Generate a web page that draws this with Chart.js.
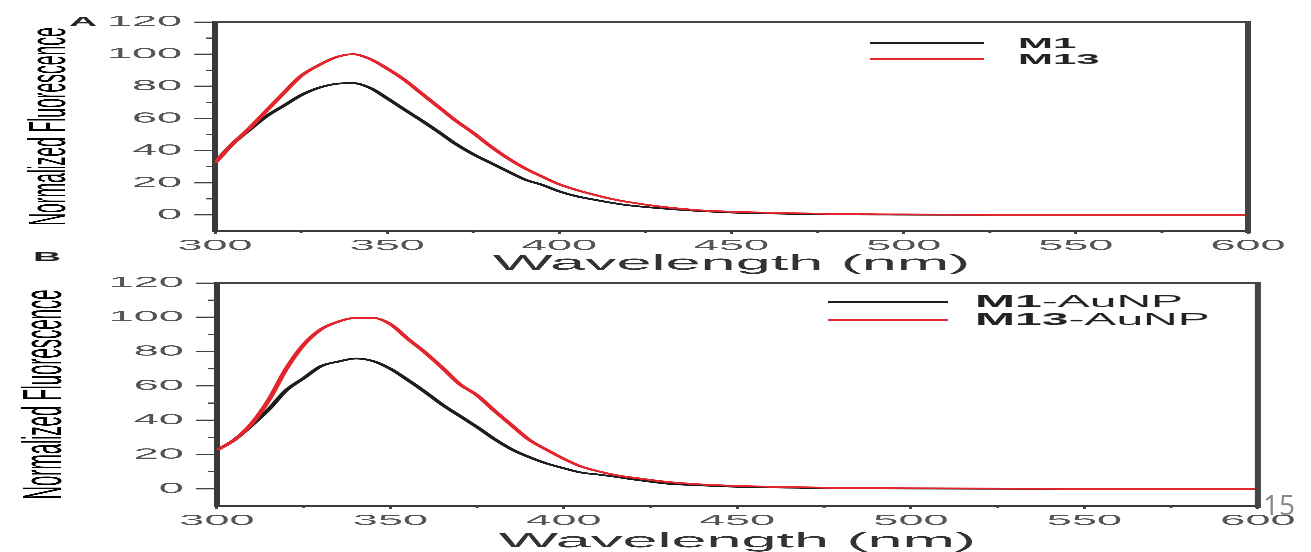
<!DOCTYPE html>
<html>
<head>
<meta charset="utf-8">
<title>Normalized Fluorescence</title>
<script src="https://cdn.jsdelivr.net/npm/chart.js@4.4.1/dist/chart.umd.min.js"></script>
<style>
  html, body { margin: 0; padding: 0; background: #fff; overflow: hidden; }
  body { width: 1311px; height: 552px; position: relative; font-family: 'Liberation Sans', Arial, sans-serif; }
  /* the source figure is stretched sideways, so the whole chart is too */
  #wrap { position: absolute; left: 0; top: 0; width: 437px; height: 552px; transform: scaleX(3); transform-origin: 0 0; }
  #wrap canvas { position: absolute; left: 0; display: block; }
  .leg-line { position: absolute; height: 2px; }
  .leg-text { position: absolute; color: #222; white-space: nowrap; }
  .panel { position: absolute; font-weight: bold; font-size: 13px; line-height: 13px; color: #222; }
  #page { position: absolute; left: 1263px; top: 490px; font: 400 28px/28px 'Open Sans', sans-serif; color: #888; }
</style>
</head>
<body>
<div id="wrap">
  <canvas id="chartA" width="437" height="285" style="top:0"></canvas>
  <canvas id="chartB" width="437" height="282" style="top:270px"></canvas>
  <div class="panel" style="left:23px; top:15px">A</div>
  <div class="panel" style="left:11px; top:250px">B</div>
  <div id="legendA"></div>
  <div id="legendB"></div>
</div>
<div id="page">15</div>

<script>
// wavelengths (nm) shared by all curves
const wavelengths = [300, 305, 310, 315, 320, 325, 330, 335, 340, 345, 350, 355, 360, 365, 370, 375,
  380, 385, 390, 395, 400, 405, 410, 415, 420, 430, 440, 450, 475, 500, 550, 600];

// panel A
const m1A  = [32.5, 44, 53, 61.5, 68, 74.5, 79, 81.5, 82, 79, 72.5, 65.5, 58.7, 51.5, 44, 37.7,
  32.4, 27.1, 22, 18.7, 14.6, 11.6, 9.5, 7.6, 6, 4, 2.5, 1.5, 0.5, 0.2, 0, 0];
const m13A = [32.5, 44, 54, 65, 76, 86.5, 93, 98, 100, 97, 91, 84, 75.5, 67, 58.5, 51,
  42.7, 35.3, 29, 23.8, 19, 15.5, 12.6, 10, 8, 5, 3, 2, 0.8, 0.3, 0.05, 0];

// panel B
const m1B  = [22.5, 28.5, 37, 46.5, 57.5, 64.5, 71.5, 74.2, 76, 74.5, 70, 63.5, 56.5, 49, 42.5, 36,
  29, 23, 18.5, 14.8, 12, 9.5, 8.3, 7, 5.5, 3, 2, 1.2, 0.5, 0.2, 0, 0];
const m13B = [22.5, 28.5, 38, 52, 70, 84, 93, 97.5, 99.7, 99.7, 96, 87.5, 79.5, 70.5, 61, 54.5,
  45.5, 37, 28.6, 22.8, 17.5, 13, 10.2, 8, 6.5, 4, 2.5, 1.7, 0.7, 0.3, 0.05, 0];

const labelsA = ['M1', 'M13'];
const labelsB = ['M1-AuNP', 'M13-AuNP'];

const xTicks = [300, 350, 400, 450, 500, 550, 600];
const yTicks = [0, 20, 40, 60, 80, 100, 120];
const xMinor = [325, 375, 425, 475, 525, 575];
const yMinor = [10, 30, 50, 70, 90, 110];

const black = '#1e1e1e';
const red = '#e3262e';
const family = "'Liberation Sans', Arial, sans-serif";

// top + right frame and the short minor ticks
const frame = {
  id: 'frame',
  afterDraw(chart) {
    const { ctx, chartArea: a, scales: { x, y } } = chart;
    ctx.save();
    ctx.strokeStyle = '#444';
    ctx.lineWidth = 2;
    ctx.beginPath();
    ctx.moveTo(a.left, a.top);
    ctx.lineTo(a.right, a.top);
    ctx.lineTo(a.right, a.bottom + 2);
    ctx.stroke();
    ctx.lineWidth = 1.2;
    yMinor.forEach(v => {
      const py = y.getPixelForValue(v);
      ctx.beginPath(); ctx.moveTo(a.left - 3, py); ctx.lineTo(a.left, py); ctx.stroke();
    });
    ctx.lineWidth = 1;
    xMinor.forEach(v => {
      const px = x.getPixelForValue(v);
      ctx.beginPath(); ctx.moveTo(px, a.bottom); ctx.lineTo(px, a.bottom + 2); ctx.stroke();
    });
    ctx.restore();
  }
};

function makeChart(id, m1, m13, labels, box) {
  return new Chart(document.getElementById(id), {
    type: 'line',
    data: {
      datasets: [
        { label: labels[0], data: wavelengths.map((w, i) => ({ x: w, y: m1[i] })), borderColor: black, order: 1 },
        { label: labels[1], data: wavelengths.map((w, i) => ({ x: w, y: m13[i] })), borderColor: red, order: 0 }
      ]
    },
    options: {
      responsive: false,
      animation: false,
      devicePixelRatio: 3,
      layout: { padding: { top: box.top, right: box.right, left: 0, bottom: 0 } },
      elements: {
        point: { radius: 0 },
        line: { borderWidth: 1.8, cubicInterpolationMode: 'monotone' }
      },
      plugins: { legend: { display: false }, tooltip: { enabled: false } },
      scales: {
        x: {
          type: 'linear', min: 300, max: 600,
          afterBuildTicks: s => { s.ticks = xTicks.map(v => ({ value: v })); },
          afterFit: s => { s.height = box.xh; },
          grid: { drawOnChartArea: false, tickLength: 3, tickColor: '#444', tickWidth: 1 },
          border: { color: '#3a3a3a', width: 2 },
          ticks: { color: '#555', padding: 3, autoSkip: false, maxRotation: 0, font: { family: family, size: 15 } },
          title: {
            display: true, text: 'Wavelength (nm)', color: '#333',
            font: { family: family, size: 21, lineHeight: 1 },
            padding: { top: 0, bottom: box.tb }
          }
        },
        y: {
          min: -10, max: 120,
          afterBuildTicks: s => { s.ticks = yTicks.map(v => ({ value: v })); },
          afterFit: s => { s.width = box.yw; },
          grid: { drawOnChartArea: false, tickLength: 7, tickColor: '#444', tickWidth: 1.2 },
          border: { color: '#3a3a3a', width: 2 },
          ticks: { color: '#555', padding: 4, font: { family: family, size: 15 } },
          title: {
            display: true, text: 'Normalized Fluorescence', color: '#000',
            font: { family: family, size: box.ts, lineHeight: 1 },
            padding: { top: box.tp, bottom: 0 }
          }
        }
      }
    },
    plugins: [frame]
  });
}

function makeLegend(id, chart, pos) {
  const el = document.getElementById(id);
  chart.data.datasets.forEach((ds, i) => {
    const y = pos.y + i * pos.gap;
    const line = document.createElement('div');
    line.className = 'leg-line';
    line.style.cssText = `left:${pos.x0}px; width:${pos.x1 - pos.x0}px; top:${y - 1}px; background:${ds.borderColor}`;
    const txt = document.createElement('div');
    txt.className = 'leg-text';
    const parts = ds.label.split('-');
    txt.innerHTML = '<b>' + parts[0] + '</b>' + (parts[1] ? '-' + parts[1] : '');
    txt.style.cssText = `left:${pos.tx}px; top:${y - pos.size / 2}px; font-size:${pos.size}px; line-height:${pos.size}px`;
    el.appendChild(line);
    el.appendChild(txt);
  });
}

const chartA = makeChart('chartA', m1A, m13A, labelsA,
  { top: 22, right: 21, xh: 54, yw: 71.7, tb: 10.5, ts: 17.5, tp: 8 });
const chartB = makeChart('chartB', m1B, m13B, labelsB,
  { top: 13, right: 17.7, xh: 46, yw: 72.3, tb: 0, ts: 18.5, tp: 6 });

makeLegend('legendA', chartA, { x0: 290, x1: 328.3, tx: 339.3, y: 43, gap: 16, size: 14 });
makeLegend('legendB', chartB, { x0: 276, x1: 315.7, tx: 325, y: 302, gap: 18, size: 16 });
</script>
</body>
</html>
